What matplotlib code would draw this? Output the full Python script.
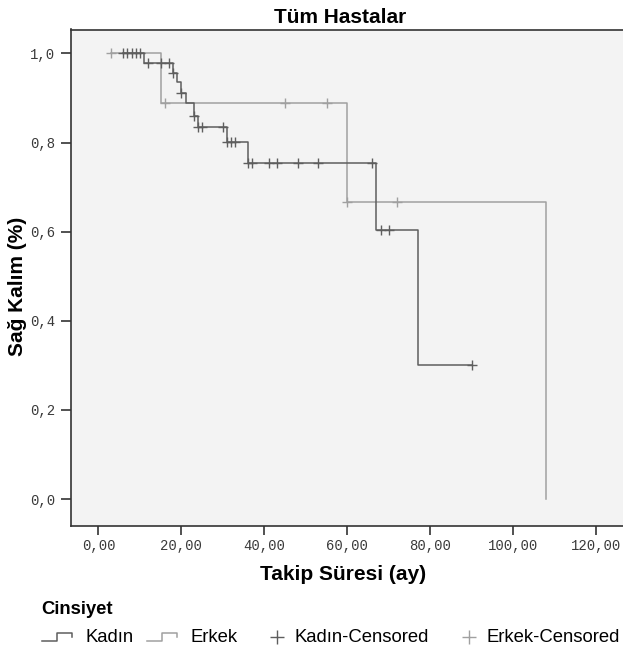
import matplotlib
matplotlib.use('Agg')
import matplotlib.pyplot as plt
import numpy as np
from matplotlib.legend_handler import HandlerBase
from matplotlib.lines import Line2D

# ---- data ----
kadin_times = [6, 11, 18, 19, 20, 21, 23, 24, 31, 36, 67, 77, 90]
kadin_surv = [1.0, 0.979, 0.957, 0.935, 0.911, 0.888, 0.860, 0.834, 0.802, 0.754, 0.604, 0.300, 0.300]
kadin_censored = [6, 7, 8, 9, 10, 12, 15, 17, 18, 20, 23, 24, 25, 30, 31, 32, 33,
                  36, 37, 41, 43, 48, 53, 66, 68, 70, 90]

erkek_times = [3, 15, 60, 108]
erkek_surv = [1.0, 0.889, 0.667, 0.0]
erkek_censored = [3, 16, 45, 55, 60, 72]

x_ticks = [0, 20, 40, 60, 80, 100, 120]
x_ticklabels = ['0,00', '20,00', '40,00', '60,00', '80,00', '100,00', '120,00']
y_ticks = [0.0, 0.2, 0.4, 0.6, 0.8, 1.0]
y_ticklabels = ['0,0', '0,2', '0,4', '0,6', '0,8', '1,0']

title = 'Tüm Hastalar'
xlabel = 'Takip Süresi (ay)'
ylabel = 'Sağ Kalım (%)'
legend_title = 'Cinsiyet'
legend_labels = ['Kadın', 'Erkek', 'Kadın-Censored', 'Erkek-Censored']

# ---- styling ----
W, H = 623, 652
DPI = 100
c_kadin = '#5e5e5e'
c_erkek = '#a0a0a0'
sans = ['Liberation Sans', 'DejaVu Sans']
mono = ['Liberation Mono', 'DejaVu Sans Mono']

fig = plt.figure(figsize=(W / DPI, H / DPI), dpi=DPI)
fig.patch.set_facecolor('white')


def fx(px):
    return px / W


def fy(py):
    return 1 - py / H


ax_left, ax_right, ax_top, ax_bottom = 70.7, 640.0, 29.5, 526.0
ax = fig.add_axes([fx(ax_left), fy(ax_bottom), (ax_right - ax_left) / W, (ax_bottom - ax_top) / H])
ax.set_facecolor('#f3f3f3')

x0_px, x_per = 98.4, 4.149
y0_px, y_per = 499.0, 445.5
ax.set_xlim((ax_left - x0_px) / x_per, (ax_right - x0_px) / x_per)
ax.set_ylim((y0_px - ax_bottom) / y_per, (y0_px - ax_top) / y_per)


def level_at(times, surv, t):
    i = np.searchsorted(times, t, side='right') - 1
    return surv[i]


ax.step(erkek_times, erkek_surv, where='post', color=c_erkek, lw=1.1, zorder=2)
ax.step(kadin_times, kadin_surv, where='post', color=c_kadin, lw=1.1, zorder=3)
ax.plot(erkek_censored, [level_at(erkek_times, erkek_surv, t) for t in erkek_censored],
        ls='none', marker='+', ms=6.5, mew=1.0, color=c_erkek, zorder=2)
ax.plot(kadin_censored, [level_at(kadin_times, kadin_surv, t) for t in kadin_censored],
        ls='none', marker='+', ms=6.5, mew=1.0, color=c_kadin, zorder=3)

for side in ['left', 'bottom', 'top']:
    ax.spines[side].set_color('#333333')
    ax.spines[side].set_linewidth(1.2)
ax.spines['right'].set_visible(False)

ax.set_xticks(x_ticks)
ax.set_xticklabels(x_ticklabels, family=mono, fontsize=10, color='#3a3a3a')
ax.set_yticks(y_ticks)
ax.set_yticklabels(y_ticklabels, family=mono, fontsize=10, color='#3a3a3a')
ax.tick_params(axis='y', direction='out', length=7, width=1.2, color='#333333', pad=4)
ax.tick_params(axis='x', direction='out', length=6.5, width=1.2, color='#333333', pad=3)

fig.text(fx(340), fy(23.3), title, ha='center', va='baseline', fontsize=15,
         weight='bold', family=sans)
fig.text(fx(342.8), fy(580), xlabel, ha='center', va='baseline', fontsize=15,
         weight='bold', family=sans)
fig.text(fx(17.5), fy(286), ylabel, ha='center', va='center', rotation=90, fontsize=15,
         weight='bold', family=sans)


# ---- legend ----
class StepHandler(HandlerBase):
    def create_artists(self, legend, orig_handle, xdescent, ydescent, width, height,
                       fontsize, trans):
        xs = np.array([0.0, 0.45, 0.45, 0.88, 0.88]) * width - xdescent
        ys = np.array([0.1, 0.1, 0.75, 0.75, 0.45]) * height - ydescent
        ln = Line2D(xs, ys, color=orig_handle.get_color(), lw=1.1, transform=trans)
        return [ln]


class PlusHandler(HandlerBase):
    def create_artists(self, legend, orig_handle, xdescent, ydescent, width, height,
                       fontsize, trans):
        ln = Line2D([0.78 * width - xdescent], [0.45 * height - ydescent], ls='none',
                    marker='+', ms=10, mew=1.0, color=orig_handle.get_color(),
                    transform=trans)
        return [ln]


h_k = Line2D([], [], color=c_kadin)
h_e = Line2D([], [], color=c_erkek)
h_kc = Line2D([], [], color=c_kadin, marker='+')
h_ec = Line2D([], [], color=c_erkek, marker='+')

leg_fs = 13.3
leg = fig.legend([h_k, h_e, h_kc, h_ec], legend_labels, ncol=4, loc='upper left',
                 bbox_to_anchor=(fx(41.7), fy(601)), frameon=False, borderpad=0,
                 borderaxespad=0, handlelength=34 / (leg_fs * DPI / 72),
                 handletextpad=10 / (leg_fs * DPI / 72), columnspacing=0.7,
                 labelspacing=0.62, prop={'family': sans, 'size': leg_fs},
                 title=legend_title, title_fontproperties={'family': sans, 'size': leg_fs,
                                                           'weight': 'bold'},
                 alignment='left',
                 handler_map={h_k: StepHandler(), h_e: StepHandler(),
                              h_kc: PlusHandler(), h_ec: PlusHandler()})

fig.savefig('out.png', dpi=DPI)
